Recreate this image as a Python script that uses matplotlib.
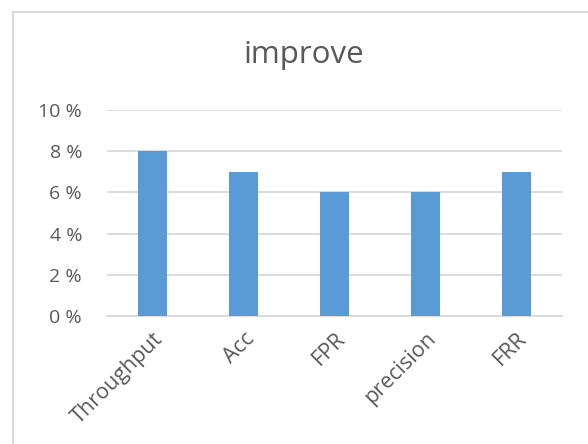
import matplotlib.pyplot as plt
from matplotlib.patches import Rectangle
from matplotlib.ticker import FuncFormatter, MultipleLocator

categories = ['Throughput', 'Acc', 'FPR', 'precision', 'FRR']
improve = [0.08, 0.07, 0.06, 0.06, 0.07]

plt.rcParams['font.family'] = ['Open Sans', 'DejaVu Sans']

W, H = 588, 444
fig = plt.figure(figsize=(W / 100, H / 100), dpi=100)

# chart border (cropped at right and bottom)
fig.patches.append(Rectangle((13 / W, -0.1), 1.2, 1.1 - 12 / H, transform=fig.transFigure,
                             fill=False, edgecolor='#d9d9d9', linewidth=1.3))

ax = fig.add_axes([107 / W, 1 - 316 / H, (562 - 107) / W, (316 - 110) / H])
x = range(len(categories))
ax.bar(x, improve, width=0.31, color='#5b9bd5', zorder=3)

ax.set_xlim(-0.5, len(categories) - 0.5)
ax.set_ylim(0, 0.10)
ax.yaxis.set_major_locator(MultipleLocator(0.02))
ax.yaxis.set_major_formatter(FuncFormatter(lambda v, _: f'{v * 100:.0f} %'))
ax.grid(axis='y', color='#d9d9d9', linewidth=1.3, zorder=0)
for s in ['top', 'right', 'left']:
    ax.spines[s].set_visible(False)
ax.spines['bottom'].set_color('#d9d9d9')
ax.spines['bottom'].set_linewidth(1.3)
ax.tick_params(length=0, labelsize=14, labelcolor='#595959')
ax.tick_params(axis='y', pad=18)
ax.set_xticks(list(x))
ax.set_xticklabels(categories, rotation=45, ha='right', rotation_mode='anchor', fontsize=15.5)
ax.tick_params(axis='x', pad=9)

fig.text(304 / W, 1 - 55 / H, 'improve', ha='center', va='center', fontsize=22.5, color='#595959')

fig.savefig('out.png', dpi=100)
